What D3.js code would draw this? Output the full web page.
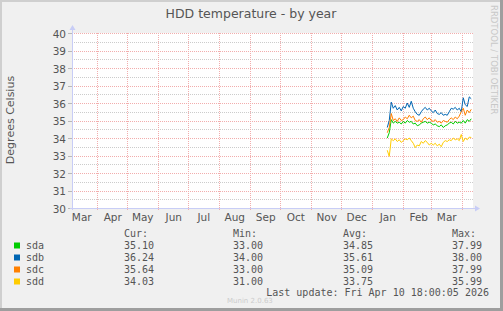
<!DOCTYPE html>
<html>
<head>
<meta charset="utf-8">
<script src="https://cdn.jsdelivr.net/npm/d3@7"></script>
<style>
  html, body { margin: 0; padding: 0; background: #f0f0f0; }
  svg { display: block; }
  text { font-family: "DejaVu Sans", sans-serif; fill: #555; }
  .mono { font-family: "DejaVu Sans Mono", monospace; }
</style>
</head>
<body>
<script>
// series names and colours (munin palette)
const seriesNames = ["sda", "sdb", "sdc", "sdd"];
const seriesColors = ["#00cc00", "#0066b3", "#ff8000", "#ffcc00"];

// one sample every 2 days, starting 2026-01-16
const startDay = "2026-01-16";
const stepDays = 2;
const sda = [34.0, 34.3, 35.05, 34.85, 34.95, 34.85, 34.9, 34.8, 34.95, 34.85, 35.0, 34.9, 34.95, 34.8, 34.85, 34.7, 34.75, 34.85, 34.9, 34.95, 34.85, 34.9, 34.85, 34.75, 34.8, 34.7, 34.65, 34.75, 34.6, 34.7, 34.75, 34.85, 34.9, 34.8, 34.95, 34.85, 34.9, 34.85, 35.0, 34.85, 35.05, 34.95, 35.1];
const sdb = [34.6, 35.0, 36.05, 35.7, 35.85, 35.6, 35.75, 35.55, 35.8, 35.7, 36.0, 35.75, 36.1, 35.7, 35.5, 35.35, 35.3, 35.5, 35.65, 35.75, 35.6, 35.7, 35.55, 35.45, 35.6, 35.4, 35.35, 35.45, 35.3, 35.35, 35.3, 35.5, 35.7, 35.65, 35.75, 35.6, 35.7, 35.5, 36.3, 35.9, 35.8, 36.35, 36.24];
const sdc = [34.3, 34.6, 35.4, 35.0, 35.1, 34.95, 35.15, 35.0, 35.05, 35.2, 35.1, 35.3, 35.15, 35.25, 35.0, 34.95, 35.05, 34.9, 35.1, 35.2, 35.05, 35.15, 35.0, 34.95, 35.05, 34.9, 34.95, 34.85, 35.0, 34.95, 34.9, 35.05, 35.15, 35.05, 35.2, 35.1, 35.25, 35.5, 35.7, 35.3, 35.6, 35.45, 35.64];
const sdd = [33.3, 32.95, 33.95, 33.85, 33.95, 33.8, 33.9, 33.75, 33.85, 33.95, 33.9, 34.0, 33.85, 33.7, 33.45, 33.6, 33.55, 33.8, 33.7, 33.85, 33.75, 33.6, 33.7, 33.6, 33.7, 33.55, 33.65, 33.5, 33.75, 33.85, 33.8, 33.9, 33.85, 34.0, 33.9, 33.95, 33.85, 34.2, 33.8, 34.0, 33.9, 34.05, 34.03];
const seriesValues = [sda, sdb, sdc, sdd];

// legend table
const statHeaders = ["Cur:", "Min:", "Avg:", "Max:"];
const curVals = ["35.10", "36.24", "35.64", "34.03"];
const minVals = ["33.00", "34.00", "33.00", "31.00"];
const avgVals = ["34.85", "35.61", "35.09", "33.75"];
const maxVals = ["37.99", "38.00", "37.99", "35.99"];

const yTicks = [30, 31, 32, 33, 34, 35, 36, 37, 38, 39, 40];
const monthLabels = ["Mar", "Apr", "May", "Jun", "Jul", "Aug", "Sep", "Oct", "Nov", "Dec", "Jan", "Feb", "Mar"];

const W = 503, H = 311;
const plot = {left: 72, right: 472, top: 33, bottom: 208};

const endTime = new Date(2026, 3, 10, 18, 0, 5);
const startTime = d3.timeDay.offset(endTime, -400);

const x = d3.scaleTime().domain([startTime, endTime]).range([plot.left, plot.right]);
const y = d3.scaleLinear().domain([30, 40]).range([plot.bottom, plot.top]);

const svg = d3.select("body").append("svg")
    .attr("width", W).attr("height", H);

// frame
svg.append("rect").attr("width", W).attr("height", H).attr("fill", "#f0f0f0");
svg.append("rect").attr("x", 0).attr("y", 0).attr("width", W).attr("height", 2).attr("fill", "#cfcfcf");
svg.append("rect").attr("x", 0).attr("y", 0).attr("width", 2).attr("height", H).attr("fill", "#cfcfcf");
svg.append("rect").attr("x", W - 3).attr("y", 0).attr("width", 3).attr("height", H).attr("fill", "#9e9e9e");
svg.append("rect").attr("x", 0).attr("y", H - 3).attr("width", W).attr("height", 3).attr("fill", "#9e9e9e");

// plot background
svg.append("rect")
    .attr("x", plot.left).attr("y", plot.top)
    .attr("width", plot.right - plot.left + 1).attr("height", plot.bottom - plot.top)
    .attr("fill", "#ffffff");

const grid = svg.append("g").attr("shape-rendering", "crispEdges");

// minor horizontal grid (half degrees)
const minor = d3.range(30.5, 40, 1);
grid.selectAll("line.minor").data(minor).join("line")
    .attr("x1", plot.left).attr("x2", plot.right + 1)
    .attr("y1", d => Math.round(y(d)) + 0.5).attr("y2", d => Math.round(y(d)) + 0.5)
    .attr("stroke", "#cccccc").attr("stroke-dasharray", "1,1");

// major horizontal grid
grid.selectAll("line.major").data(yTicks.slice(1)).join("line")
    .attr("x1", plot.left).attr("x2", plot.right + 1)
    .attr("y1", d => Math.round(y(d)) + 0.5).attr("y2", d => Math.round(y(d)) + 0.5)
    .attr("stroke", "#f2adad").attr("stroke-dasharray", "1,1");

// y tick marks
grid.selectAll("line.ytick").data(yTicks).join("line")
    .attr("x1", plot.left - 4).attr("x2", plot.left)
    .attr("y1", d => Math.round(y(d)) + 0.5).attr("y2", d => Math.round(y(d)) + 0.5)
    .attr("stroke", "#b8b8b8");

// month grid lines
const months = d3.timeMonth.range(d3.timeMonth.ceil(startTime), endTime);
grid.selectAll("line.month").data(months).join("line")
    .attr("x1", d => Math.round(x(d)) + 0.5).attr("x2", d => Math.round(x(d)) + 0.5)
    .attr("y1", plot.top).attr("y2", plot.bottom + 3)
    .attr("stroke", "#f2adad").attr("stroke-dasharray", "1,1");

// axes
const axisColor = "#c8cdf6";
grid.append("line")
    .attr("x1", plot.left + 0.5).attr("x2", plot.left + 0.5)
    .attr("y1", plot.top - 4).attr("y2", plot.bottom + 2)
    .attr("stroke", axisColor);
grid.append("line")
    .attr("x1", plot.left - 2).attr("x2", plot.right + 4)
    .attr("y1", plot.bottom + 0.5).attr("y2", plot.bottom + 0.5)
    .attr("stroke", axisColor);
svg.append("path")
    .attr("d", `M${plot.left - 2.5},${plot.top - 3} L${plot.left + 0.5},${plot.top - 8} L${plot.left + 3.5},${plot.top - 3} Z`)
    .attr("fill", axisColor);
svg.append("path")
    .attr("d", `M${plot.right + 3},${plot.bottom - 2.5} L${plot.right + 8},${plot.bottom + 0.5} L${plot.right + 3},${plot.bottom + 3.5} Z`)
    .attr("fill", axisColor);

// y labels
svg.selectAll("text.ylab").data(yTicks).join("text")
    .attr("x", 66).attr("y", d => y(d) + 4.5)
    .attr("text-anchor", "end").attr("font-size", 10.5)
    .text(d => d);

// month labels, centred on the middle of each month
const monthStarts = d3.timeMonth.range(d3.timeMonth.floor(startTime), endTime);
svg.selectAll("text.xlab").data(monthStarts).join("text")
    .attr("x", (d, i) => x(d3.timeHour.offset(d, 15 * 24 + 12)))
    .attr("y", 221)
    .attr("text-anchor", "middle").attr("font-size", 10.5)
    .text((d, i) => monthLabels[i]);

// series lines
const dayOf = i => d3.timeDay.offset(d3.timeParse("%Y-%m-%d")(startDay), i * stepDays);
const line = d3.line().x((d, i) => x(dayOf(i))).y(d => y(d));
const lines = svg.append("g").attr("fill", "none").attr("stroke-width", 1);
seriesValues.forEach((vals, k) => {
    lines.append("path").attr("d", line(vals)).attr("stroke", seriesColors[k]);
});

// title and axis label
svg.append("text").attr("x", 251).attr("y", 18)
    .attr("text-anchor", "middle").attr("font-size", 12.5)
    .text("HDD temperature - by year");
svg.append("text")
    .attr("transform", "translate(14,120) rotate(-90)")
    .attr("text-anchor", "middle").attr("font-size", 11)
    .text("Degrees Celsius");
svg.append("text")
    .attr("transform", "translate(491,5) rotate(90)")
    .attr("font-size", 8.5).style("fill", "#c8c8c8")
    .text("RRDTOOL / TOBI OETIKER");

// legend
const colX = [124, 233, 343, 452];
const leg = svg.append("g").attr("class", "mono").attr("font-size", 10);
statHeaders.forEach((h, j) => {
    leg.append("text").attr("class", "mono").attr("x", colX[j]).attr("y", 237).text(h);
});
const cols = [curVals, minVals, avgVals, maxVals];
seriesNames.forEach((name, i) => {
    const by = 249 + i * 12;
    leg.append("rect").attr("x", 14).attr("y", by - 6.5).attr("width", 6).attr("height", 6)
        .attr("fill", seriesColors[i]);
    leg.append("text").attr("class", "mono").attr("x", 26).attr("y", by).text(name);
    cols.forEach((c, j) => {
        leg.append("text").attr("class", "mono").attr("x", colX[j]).attr("y", by).text(c[i]);
    });
});
leg.append("text").attr("class", "mono").attr("x", 489).attr("y", 296)
    .attr("text-anchor", "end").text("Last update: Fri Apr 10 18:00:05 2026");

svg.append("text").attr("x", 227).attr("y", 303)
    .attr("font-size", 7).style("fill", "#cccccc")
    .text("Munin 2.0.63");
</script>
</body>
</html>
